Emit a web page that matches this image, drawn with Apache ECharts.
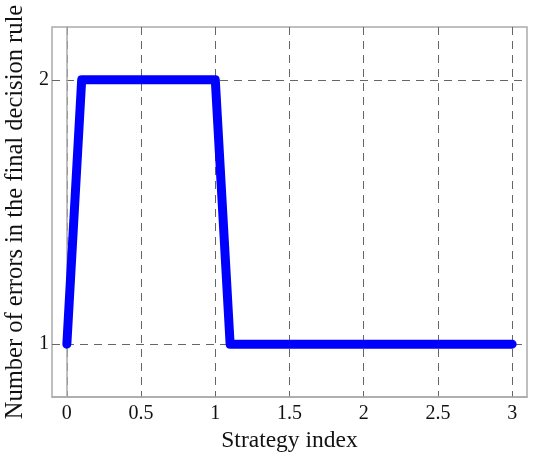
<!DOCTYPE html>
<html>
<head>
<meta charset="utf-8">
<script src="https://cdn.jsdelivr.net/npm/echarts@6/dist/echarts.min.js"></script>
<style>
  html, body { margin: 0; padding: 0; background: #fff; }
  #main { width: 550px; height: 457px; }
</style>
</head>
<body>
<div id="main"></div>
<script>
// strategy index vs number of errors
var strategyIndex = [0, 0.1, 1, 1.1, 3];
var errorCount = [1, 2, 2, 1, 1];
var xTicks = [0, 0.5, 1, 1.5, 2, 2.5, 3];
var yTicks = [1, 2];

var points = strategyIndex.map(function (x, i) { return [x, errorCount[i]]; });

var font = 'Liberation Serif';
var myChart = echarts.init(document.getElementById('main'));
myChart.setOption({
  animation: false,
  grid: {
    left: 52, right: 23, top: 27, bottom: 60,
    outerBoundsMode: 'none', containLabel: false,
    show: true, borderColor: '#aaa', borderWidth: 1.5
  },
  xAxis: {
    type: 'value',
    min: -0.1,
    max: 3.1,
    name: 'Strategy index',
    nameLocation: 'middle',
    nameGap: 27,
    nameTextStyle: { fontFamily: font, fontSize: 23.5, color: '#111' },
    axisLine: { show: true, lineStyle: { color: '#aaa', width: 1.5 } },
    axisTick: { show: false, customValues: xTicks },
    axisLabel: { customValues: xTicks, fontFamily: font, fontSize: 20, color: '#111', margin: 7 },
    splitLine: { show: true, lineStyle: { color: '#666', type: [8, 6], width: 1 } }
  },
  yAxis: {
    type: 'value',
    min: 0.8,
    max: 2.2,
    name: 'Number of errors in the final decision rule',
    nameLocation: 'middle',
    nameGap: 23,
    nameTextStyle: { fontFamily: font, fontSize: 24.5, color: '#111' },
    axisLine: { show: true, lineStyle: { color: '#aaa', width: 1.5 } },
    axisTick: { show: false, customValues: yTicks },
    axisLabel: { customValues: yTicks, fontFamily: font, fontSize: 20, color: '#111', margin: 3 },
    splitLine: { show: true, lineStyle: { color: '#666', type: [8, 6], width: 1 } }
  },
  series: [{
    type: 'line',
    data: points,
    showSymbol: false,
    lineStyle: { color: '#0000ff', width: 9, cap: 'round', join: 'round' }
  }]
});
</script>
</body>
</html>
